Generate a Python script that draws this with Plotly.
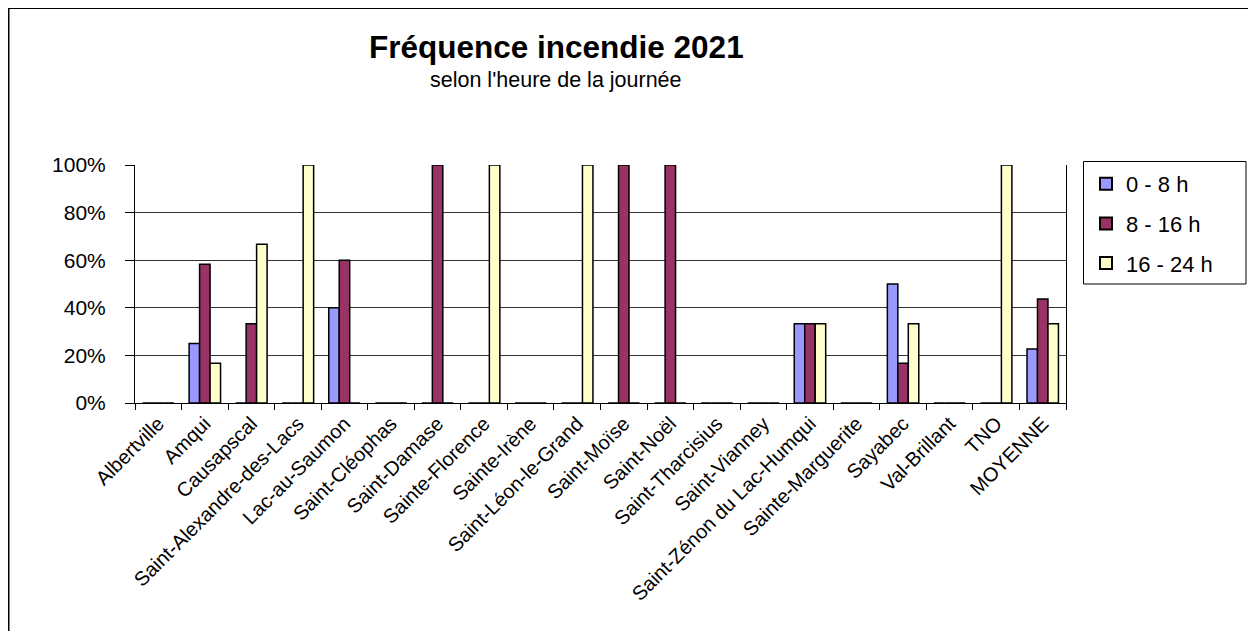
import plotly.graph_objects as go

categories = ["Albertville", "Amqui", "Causapscal", "Saint-Alexandre-des-Lacs", "Lac-au-Saumon",
              "Saint-Cléophas", "Saint-Damase", "Sainte-Florence", "Sainte-Irène", "Saint-Léon-le-Grand",
              "Saint-Moïse", "Saint-Noël", "Saint-Tharcisius", "Saint-Vianney", "Saint-Zénon du Lac-Humqui",
              "Sainte-Marguerite", "Sayabec", "Val-Brillant", "TNO", "MOYENNE"]

h0_8 = [0, 25, 0, 0, 40, 0, 0, 0, 0, 0, 0, 0, 0, 0, 33.3, 0, 50, 0, 0, 22.7]
h8_16 = [0, 58.3, 33.3, 0, 60, 0, 100, 0, 0, 0, 100, 100, 0, 0, 33.3, 0, 16.7, 0, 0, 43.7]
h16_24 = [0, 16.7, 66.7, 100, 0, 0, 0, 100, 0, 100, 0, 0, 0, 0, 33.3, 0, 33.3, 0, 100, 33.3]

series_names = ["0 - 8 h", "8 - 16 h", "16 - 24 h"]
series_values = [h0_8, h8_16, h16_24]
series_colors = ["#9999FF", "#993366", "#FFFFCC"]

y_ticks = [0, 20, 40, 60, 80, 100]

# the page body has an 8px margin, so figure coords = screen coords - 8
W, H = 1248, 623
L, R, T, B = 127, 1058, 157, 395


def px(x):
    return (x - L) / (R - L)


def py(y):
    return (B - y) / (B - T)


FONT = "Liberation Sans, Arial, sans-serif"

fig = go.Figure()
for name, vals, col in zip(series_names, series_values, series_colors):
    fig.add_trace(go.Bar(
        x=categories, y=vals, name=name, legendgroup=name,
        marker=dict(color=col, line=dict(color="black", width=1.5)),
    ))

fig.update_layout(
    template="none",
    width=W, height=H,
    margin=dict(l=L, r=W - R, t=T, b=H - B, pad=0),
    paper_bgcolor="white", plot_bgcolor="white",
    barmode="group", bargap=0.325, bargroupgap=0,
    font=dict(family=FONT, color="black"),
    showlegend=True,
    legend=dict(x=px(1078), y=py(155), xanchor="left", yanchor="top",
                bgcolor="rgba(0,0,0,0)", borderwidth=0,
                font=dict(size=22, family=FONT), tracegroupgap=8,
                itemsizing="constant"),
    xaxis=dict(type="category", showline=True, linecolor="black", linewidth=1,
               ticks="outside", tickson="boundaries", ticklen=6, tickcolor="black",
               tickangle=-45, tickfont=dict(size=20, family=FONT), showgrid=False,
               automargin=False),
    yaxis=dict(range=[0, 100], tickvals=y_ticks, ticktext=[f"{v}%" for v in y_ticks],
               showline=True, mirror=True, linecolor="black", linewidth=1,
               ticks="outside", ticklen=9, tickcolor="black", ticklabelstandoff=15,
               showgrid=True, gridcolor="#333333", gridwidth=1,
               tickfont=dict(size=21, family=FONT), zeroline=False, automargin=False),
    annotations=[
        dict(text="<b>Fréquence incendie 2021</b>", x=px(548), y=py(39), xref="paper", yref="paper",
             showarrow=False, font=dict(size=31.5, family=FONT), xanchor="center", yanchor="middle"),
        dict(text="selon l'heure de la journée", x=px(548), y=py(72), xref="paper", yref="paper",
             showarrow=False, font=dict(size=21.5, family=FONT), xanchor="center", yanchor="middle"),
    ],
    shapes=[
        # outer chart frame
        dict(type="line", xref="paper", yref="paper", x0=px(0), x1=px(W), y0=py(0), y1=py(0),
             line=dict(color="black", width=2)),
        dict(type="line", xref="paper", yref="paper", x0=px(0.5), x1=px(0.5), y0=py(0), y1=py(H + 10),
             line=dict(color="black", width=2)),
        dict(type="line", xref="paper", yref="paper", x0=px(W - 0.5), x1=px(W - 0.5), y0=py(0), y1=py(H + 10),
             line=dict(color="#999999", width=1)),
        # legend frame
        dict(type="rect", xref="paper", yref="paper", x0=px(1075.5), x1=px(1238), y0=py(153.5), y1=py(276),
             line=dict(color="black", width=1), fillcolor="rgba(0,0,0,0)"),
    ],
)

fig.write_html("out.html")
